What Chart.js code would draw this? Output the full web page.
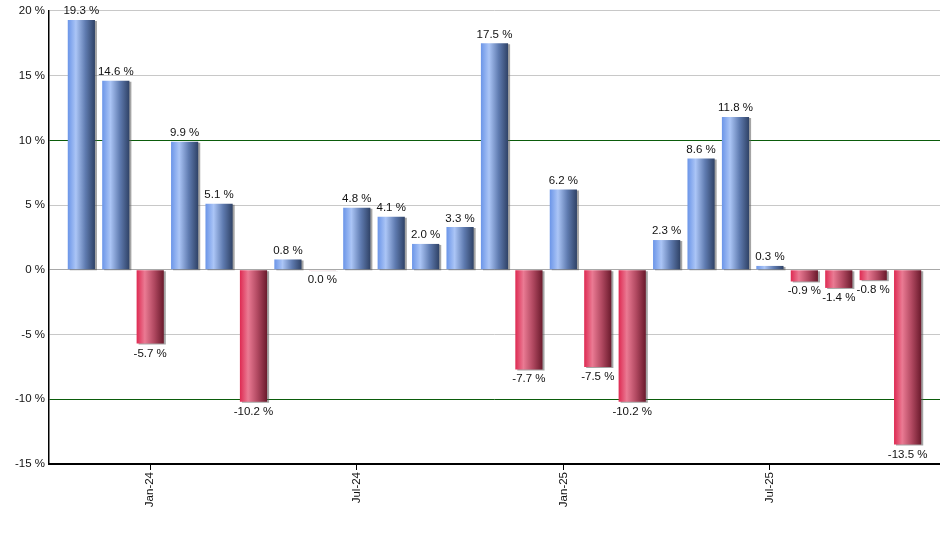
<!DOCTYPE html>
<html>
<head>
<meta charset="utf-8">
<script src="https://cdn.jsdelivr.net/npm/chart.js@4"></script>
<style>
  html, body { margin: 0; padding: 0; background: #fff; }
  #wrap { width: 940px; height: 550px; position: relative; }
</style>
</head>
<body>
<div id="wrap"><canvas id="returns-chart"></canvas></div>
<script>
const months = [
  'Nov-23', 'Dec-23', 'Jan-24', 'Feb-24', 'Mar-24', 'Apr-24', 'May-24', 'Jun-24',
  'Jul-24', 'Aug-24', 'Sep-24', 'Oct-24', 'Nov-24', 'Dec-24', 'Jan-25', 'Feb-25',
  'Mar-25', 'Apr-25', 'May-25', 'Jun-25', 'Jul-25', 'Aug-25', 'Sep-25', 'Oct-25', 'Nov-25',
];
const returns = [
  19.3, 14.6, -5.7, 9.9, 5.1, -10.2, 0.8, -0.03, 4.8, 4.1, 2.0, 3.3, 17.5,
  -7.7, 6.2, -7.5, -10.2, 2.3, 8.6, 11.8, 0.3, -0.9, -1.4, -0.8, -13.5,
];
const tickMonths = [2, 8, 14, 20];
const yTicks = [-15, -10, -5, 0, 5, 10, 15, 20];

const BAR_PCT = 0.79;

const formatPct = (v) => {
  let s = v.toFixed(1);
  if (s === '-0.0') s = '0.0';
  return s + ' %';
};

const barFill = (ctx) => {
  const chart = ctx.chart;
  const v = returns[ctx.dataIndex];
  if (!chart.chartArea) return v >= 0 ? '#6f97e8' : '#d83058';
  const xs = chart.scales.x;
  const step = xs.getPixelForValue(1) - xs.getPixelForValue(0);
  const cx = xs.getPixelForValue(ctx.dataIndex);
  const half = (step * BAR_PCT) / 2;
  const g = chart.ctx.createLinearGradient(cx - half, 0, cx + half, 0);
  if (v >= 0) {
    g.addColorStop(0, '#6b95e8');
    g.addColorStop(0.3, '#abc5f6');
    g.addColorStop(0.65, '#5f7bb0');
    g.addColorStop(1, '#2f4266');
  } else {
    g.addColorStop(0, '#de2a52');
    g.addColorStop(0.3, '#ea7a93');
    g.addColorStop(0.65, '#b04860');
    g.addColorStop(1, '#6a1a2c');
  }
  return g;
};

// bar shadow + value labels
const barDecor = {
  id: 'barDecor',
  beforeDatasetsDraw(chart) {
    const c = chart.ctx;
    c.save();
    c.shadowColor = 'rgba(90, 90, 90, 0.55)';
    c.shadowOffsetX = 2;
    c.shadowOffsetY = 1;
    c.shadowBlur = 0;
  },
  afterDatasetsDraw(chart) {
    const c = chart.ctx;
    c.restore();
    c.save();
    c.font = '11.5px "Liberation Sans", Arial, sans-serif';
    c.fillStyle = '#111';
    c.textAlign = 'center';
    chart.getDatasetMeta(0).data.forEach((bar, i) => {
      const v = returns[i];
      if (v >= 0) {
        c.textBaseline = 'bottom';
        c.fillText(formatPct(v), bar.x, bar.y - 3);
      } else {
        c.textBaseline = 'top';
        c.fillText(formatPct(v), bar.x, bar.y + 4);
      }
    });
    c.restore();
  },
};

new Chart(document.getElementById('returns-chart'), {
  type: 'bar',
  data: {
    datasets: [
      {
        data: returns.map((v, i) => ({ x: i, y: v })),
        backgroundColor: barFill,
        borderWidth: 0,
        barPercentage: BAR_PCT,
        categoryPercentage: 1,
      },
    ],
  },
  options: {
    responsive: true,
    maintainAspectRatio: false,
    animation: false,
    layout: { padding: { top: 9, left: 0, right: 0, bottom: 0 } },
    plugins: {
      legend: { display: false },
      tooltip: { enabled: false },
    },
    scales: {
      x: {
        type: 'linear',
        min: -0.94,
        max: 24.94,
        offset: false,
        afterBuildTicks: (scale) => {
          scale.ticks = tickMonths.map((v) => ({ value: v }));
        },
        afterFit: (scale) => {
          scale.height = 86;
        },
        ticks: {
          autoSkip: false,
          minRotation: 90,
          maxRotation: 90,
          padding: 2,
          color: '#111',
          font: { family: '"Liberation Sans", Arial, sans-serif', size: 11.5 },
          callback: (value) => months[value],
        },
        grid: {
          offset: false,
          drawOnChartArea: false,
          drawTicks: true,
          tickLength: 6,
          color: '#000',
        },
        border: { color: '#000', width: 2 },
      },
      y: {
        min: -15,
        max: 20,
        afterBuildTicks: (scale) => {
          scale.ticks = yTicks.map((v) => ({ value: v }));
        },
        afterFit: (scale) => {
          scale.width = 49;
        },
        ticks: {
          padding: 4,
          color: '#111',
          font: { family: '"Liberation Sans", Arial, sans-serif', size: 11.5 },
          callback: (value) => value + ' %',
        },
        grid: {
          drawTicks: false,
          color: (ctx) => {
            const v = ctx.tick && ctx.tick.value;
            if (v === 10 || v === -10) return '#0b5c0b';
            if (v === 0) return '#a8a8a8';
            return '#c8c8c8';
          },
          lineWidth: 1,
        },
        border: { color: '#000', width: 1.5 },
      },
    },
  },
  plugins: [barDecor],
});
</script>
</body>
</html>
